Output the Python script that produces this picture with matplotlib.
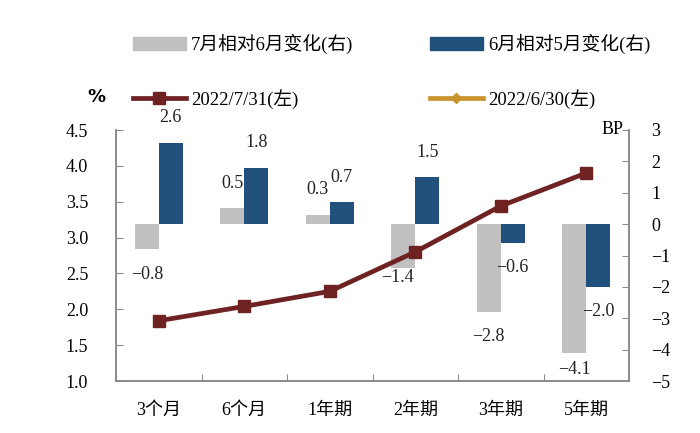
'''bond yields by tenor with monthly changes (bars, BP) and yield lines (%)'''
import matplotlib
matplotlib.use('Agg')
import matplotlib.pyplot as plt
from matplotlib.patches import Patch
from matplotlib.lines import Line2D
import numpy as np

plt.rcParams['font.family'] = ['Liberation Serif', 'Noto Sans CJK SC']
plt.rcParams['axes.unicode_minus'] = True

# data
tenors = ['3个月', '6个月', '1年期', '2年期', '3年期', '5年期']
chg_jul = [-0.8, 0.5, 0.3, -1.4, -2.8, -4.1]     # 7月相对6月变化, BP
chg_jun = [2.6, 1.8, 0.7, 1.5, -0.6, -2.0]       # 6月相对5月变化, BP
yld_0731 = [1.84, 2.04, 2.25, 2.80, 3.44, 3.90]  # %
yld_0630 = [1.842, 2.038, 2.248, 2.805, 3.447, 3.905]  # %, hidden under 7/31 line

GREY = '#c0c0c0'
BLUE = '#21507c'
RED = '#6e2222'
GOLD = '#c8922e'
SPINE = '#8c8c8c'

fig = plt.figure(figsize=(7, 4.33), dpi=100)
ax = fig.add_axes([116 / 700, 1 - 381 / 433, (629 - 116) / 700, (381 - 130) / 433])
ax2 = ax.twinx()
ax.set_zorder(ax2.get_zorder() + 1)
ax.patch.set_visible(False)

x = np.arange(len(tenors))
w = 0.28

# bars on the right axis
ax2.bar(x - w / 2, chg_jul, w, color=GREY, zorder=2)
ax2.bar(x + w / 2, chg_jun, w, color=BLUE, zorder=2)

# data labels, nudged like the original
nudge = {('g', 3): (-6, 16), ('g', 5): (0, 8)}
for i in range(len(tenors)):
    for key, vals, dx in (('g', chg_jul, -w / 2), ('b', chg_jun, w / 2)):
        v = vals[i]
        off = 25 if v >= 0 else -25
        ox, oy = nudge.get((key, i), (0, 0))
        ax2.annotate(f'{v:.1f}'.replace('-', '\u2212'), (x[i] + dx, v),
                     xytext=(ox, off + oy), textcoords='offset pixels',
                     ha='center', va='center', fontsize=13, color='#222222')

# lines on the left axis
ax.plot(x, yld_0630, color=GOLD, lw=1.5, marker='D', ms=4, zorder=3)
ax.plot(x, yld_0731, color=RED, lw=3.4, marker='s', ms=8, zorder=4)

ax.set_xlim(-0.5, len(tenors) - 0.5)
ax.set_ylim(1.0, 4.5)
ax.set_yticks(np.arange(1.0, 4.51, 0.5))
ax.set_yticklabels([f'{t:.1f}' for t in np.arange(1.0, 4.51, 0.5)])
ax2.set_ylim(-5, 3)
ax2.set_yticks(range(-5, 4))

ax.set_xticks(np.arange(-0.5, len(tenors), 1.0))
ax.set_xticklabels([])
ax.set_xticks(x, minor=True)
ax.set_xticklabels(tenors, minor=True)
ax.tick_params(axis='x', which='major', direction='in', length=5, color=SPINE)
ax.tick_params(axis='x', which='minor', length=0, pad=15, labelsize=13)
ax.tick_params(axis='y', direction='in', length=5, color=SPINE, pad=20, labelsize=13)
ax2.tick_params(axis='y', direction='in', length=5, color=SPINE, pad=16, labelsize=13)

for a in (ax, ax2):
    a.spines['top'].set_visible(False)
    for s in ('left', 'right', 'bottom'):
        a.spines[s].set_color(SPINE)
        a.spines[s].set_linewidth(1.2)

ax2.text(0.99, 1.0, 'BP', transform=ax2.transAxes, ha='right', va='center', fontsize=13)
fig.text(96 / 700, 1 - 97 / 433, '%', ha='center', va='center', fontsize=13,
         fontweight='bold', family='DejaVu Sans')

# legend in two fixed columns
h_grey = Patch(color=GREY)
h_blue = Patch(color=BLUE)
h_red = Line2D([], [], color=RED, lw=3.4, marker='s', ms=8)
h_gold = Line2D([], [], color=GOLD, lw=3.4, marker='D', ms=5)
kw = dict(loc='upper left', frameon=False, fontsize=13.5, handlelength=2.8,
          handletextpad=0.3, labelspacing=1.85, borderaxespad=0, borderpad=0)
fig.legend([h_grey, h_red], ['7月相对6月变化(右)', '2022/7/31(左)'],
           bbox_to_anchor=(133 / 700, 1 - 34 / 433), **kw)
fig.legend([h_blue, h_gold], ['6月相对5月变化(右)', '2022/6/30(左)'],
           bbox_to_anchor=(430 / 700, 1 - 34 / 433), **kw)

fig.savefig('out.png', dpi=100)
